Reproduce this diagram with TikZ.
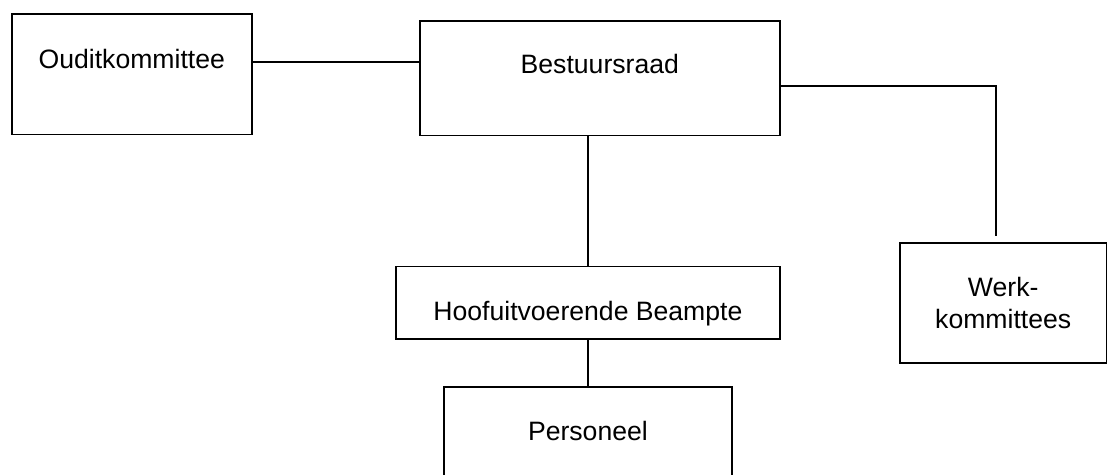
\documentclass[tikz,border=0pt]{standalone}
\usepackage{fontspec}
\setmainfont{Liberation Sans}
\tikzstyle{orgbox}=[draw=black,line width=0.9pt,inner sep=0pt,anchor=north west,font=\fontsize{13.3}{16}\selectfont]
\tikzstyle{orgline}=[line width=0.9pt]

\begin{document}
\begin{tikzpicture}[x=0.5pt,y=-0.5pt,orgline]
\useasboundingbox (0,0) rectangle (1107,475);
\node[orgbox,minimum width=120.2pt,text height=27.1pt,text depth=33.1pt] (oudit) at (10.7,13.3) {Ouditkommittee};
\node[orgbox,minimum width=180.2pt,text height=26.25pt,text depth=31.1pt] (bestuur) at (418.7,20) {Bestuursraad};
\node[orgbox,minimum width=192.3pt,text height=26.9pt,text depth=9.25pt] (hoof) at (394.7,265.7) {Hoofuitvoerende Beampte};
\node[orgbox,minimum width=144pt,text height=26.75pt,text depth=32.25pt] (personeel) at (443,386) {Personeel};
\node[orgbox,minimum width=103.6pt,minimum height=60pt,align=center] (werk) at (898.7,242) {Werk-\\kommittees};
\draw ([yshift=6.25pt]oudit.east) -- ([yshift=6.25pt]oudit.east -| bestuur.west);
\draw[shorten >=3pt] ([yshift=-3.8pt]bestuur.east) -| ([xshift=-3.7pt]werk.north);
\draw (hoof.north |- bestuur.south) -- (hoof.north);
\draw (hoof.south) -- (personeel.north);
\end{tikzpicture}
\end{document}
